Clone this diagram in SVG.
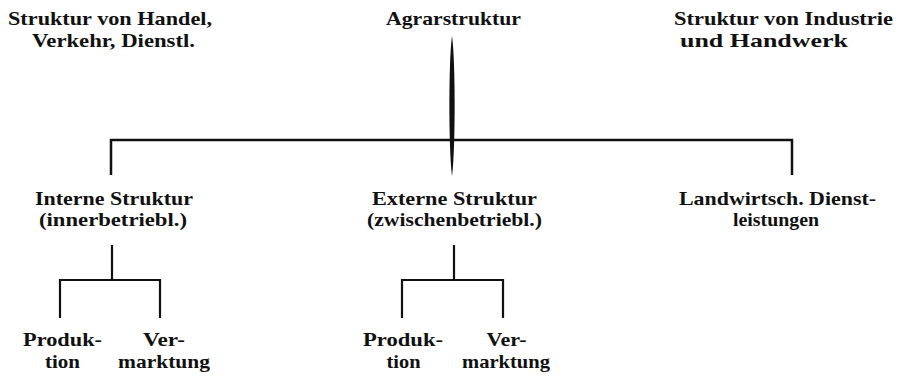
<svg xmlns="http://www.w3.org/2000/svg" width="906" height="376" viewBox="0 0 906 376">
<style>
text{font-family:"Liberation Serif","Times New Roman",serif;font-weight:bold;font-size:19px;fill:#111;text-anchor:middle}
.ln{stroke:#111;stroke-width:2.2;fill:none;stroke-linecap:butt}
</style>
<rect width="906" height="376" fill="#fff"/>
<g id="connectors">
<path d="M452,36 C455.5,60 455.5,150 452,176 C448.5,150 448.5,60 452,36 Z" fill="#111"/>
<path class="ln" d="M111,175 V140 H792 V175" style="stroke-width:2.5"/>
<path class="ln" d="M112,245 V280 M60,318 V280 H160 V318"/>
<path class="ln" d="M454,245 V280 M402,318 V280 H503 V318"/>
</g>
<g id="n-handel"><text x="110" y="25" textLength="204" lengthAdjust="spacingAndGlyphs">Struktur von Handel,</text><text x="113.5" y="47" textLength="163" lengthAdjust="spacingAndGlyphs">Verkehr, Dienstl.</text></g>
<g id="n-agrar"><text x="453.5" y="25" textLength="135" lengthAdjust="spacingAndGlyphs">Agrarstruktur</text></g>
<g id="n-industrie"><text x="783.5" y="25" textLength="219" lengthAdjust="spacingAndGlyphs">Struktur von Industrie</text><text x="764" y="47" textLength="168" lengthAdjust="spacingAndGlyphs">und Handwerk</text></g>
<g id="n-intern"><text x="114" y="205" textLength="158" lengthAdjust="spacingAndGlyphs">Interne Struktur</text><text x="113" y="226" textLength="148" lengthAdjust="spacingAndGlyphs">(innerbetriebl.)</text></g>
<g id="n-extern"><text x="454.5" y="205" textLength="165" lengthAdjust="spacingAndGlyphs">Externe Struktur</text><text x="454.5" y="226" textLength="175" lengthAdjust="spacingAndGlyphs">(zwischenbetriebl.)</text></g>
<g id="n-dienst"><text x="777.5" y="205" textLength="197" lengthAdjust="spacingAndGlyphs">Landwirtsch. Dienst-</text><text x="776" y="226" textLength="86" lengthAdjust="spacingAndGlyphs">leistungen</text></g>
<g id="n-prod1"><text x="62.5" y="346" textLength="79" lengthAdjust="spacingAndGlyphs">Produk-</text><text x="62.5" y="368" textLength="35" lengthAdjust="spacingAndGlyphs">tion</text></g>
<g id="n-verm1"><text x="164" y="346" textLength="42" lengthAdjust="spacingAndGlyphs">Ver-</text><text x="164" y="368" textLength="92" lengthAdjust="spacingAndGlyphs">marktung</text></g>
<g id="n-prod2"><text x="403" y="346" textLength="80" lengthAdjust="spacingAndGlyphs">Produk-</text><text x="403.5" y="368" textLength="34" lengthAdjust="spacingAndGlyphs">tion</text></g>
<g id="n-verm2"><text x="506.5" y="346" textLength="40" lengthAdjust="spacingAndGlyphs">Ver-</text><text x="506" y="368" textLength="88" lengthAdjust="spacingAndGlyphs">marktung</text></g>
</svg>
